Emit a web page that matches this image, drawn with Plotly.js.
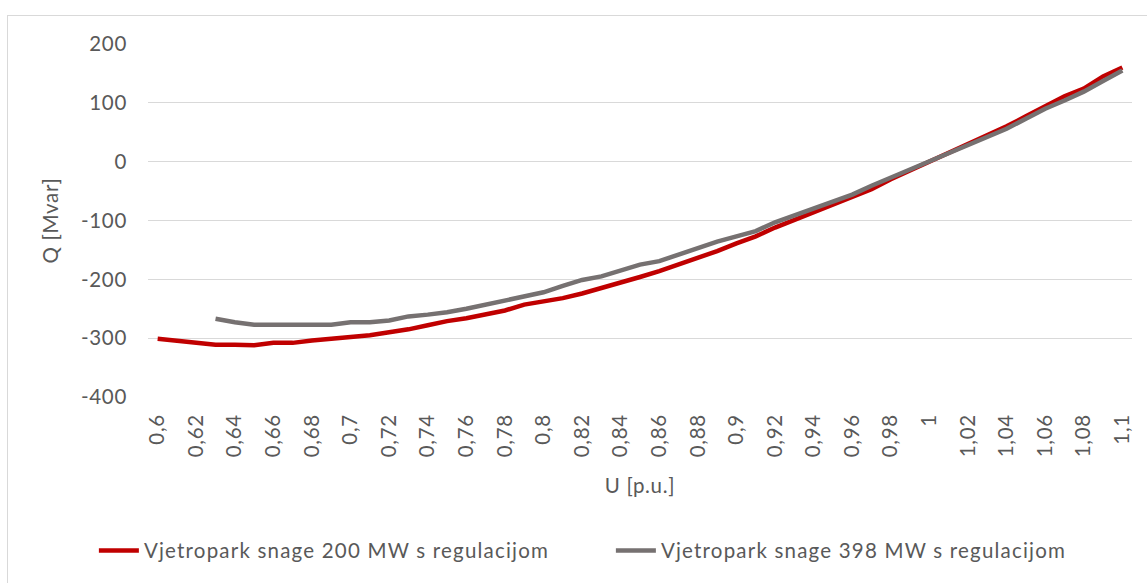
<!DOCTYPE html>
<html>
<head>
<meta charset="utf-8">
<script src="https://cdn.plot.ly/plotly-3.0.1.min.js"></script>
<style>
  html, body { margin: 0; padding: 0; background: #fff; }
  #chart { width: 1147px; height: 583px; position: absolute; left: 0; top: 0; }
  #frame { position: absolute; left: 7px; top: 15px; width: 1160px; height: 600px;
           border-left: 1.5px solid #d9d9d9; border-top: 1.5px solid #d9d9d9; pointer-events: none; }
  svg text { letter-spacing: 0.7px; }
  svg text.legendtext { letter-spacing: 1.2px; }
</style>
</head>
<body>
<div id="chart"></div>
<div id="frame"></div>
<script>
// Voltage U [p.u.] for each point
const U_RED = [0.60,0.61,0.62,0.63,0.64,0.65,0.66,0.67,0.68,0.69,
               0.70,0.71,0.72,0.73,0.74,0.75,0.76,0.77,0.78,0.79,
               0.80,0.81,0.82,0.83,0.84,0.85,0.86,0.87,0.88,0.89,
               0.90,0.91,0.92,0.93,0.94,0.95,0.96,0.97,0.98,0.99,
               1.00,1.01,1.02,1.03,1.04,1.05,1.06,1.07,1.08,1.09,1.10];
const U_GRAY = U_RED.slice(3);

// Reactive power Q [Mvar]
const Q_200 = [-301,-304,-307,-311,-311,-312,-308,-308,-304,-301,
               -298,-295,-290,-285,-278,-271,-266,-260,-253,-243,
               -238,-232,-224,-215,-205,-196,-186,-175,-164,-152,
               -139,-127,-112,-99,-87,-73,-60,-47,-30,-15,
               -1,15,30,46,60,77,95,111,124,145,160];
const Q_398 = [-267,-273,-277,-277,-278,-277,-277,-273,
               -273,-270,-263,-260,-256,-250,-243,-236,-230,
               -222,-211,-201,-195,-185,-175,-169,-158,-148,-136,
               -127,-118,-103,-91,-79,-68,-56,-41,-27,-14,
               -1,13,28,42,56,73,90,104,119,137,155];

const SERIES_NAMES = ["Vjetropark snage 200 MW s regulacijom",
                      "Vjetropark snage 398 MW s regulacijom"];

const X_TICK_VALS = [0.60,0.62,0.64,0.66,0.68,0.70,0.72,0.74,0.76,0.78,0.80,
                     0.82,0.84,0.86,0.88,0.90,0.92,0.94,0.96,0.98,1.00,
                     1.02,1.04,1.06,1.08,1.10];
const X_TICK_TEXT = ["0,6","0,62","0,64","0,66","0,68","0,7","0,72","0,74","0,76","0,78","0,8",
                     "0,82","0,84","0,86","0,88","0,9","0,92","0,94","0,96","0,98","1",
                     "1,02","1,04","1,06","1,08","1,1"];
const Y_TICK_VALS = [-400,-300,-200,-100,0,100,200];
const Y_TICK_TEXT = ["-400","-300","-200","-100","0","100","200"];

const FONT = "Lato, 'Open Sans', sans-serif";
const TXT = "#595959";
const FS = 20.5;

const traces = [
  { x: U_RED, y: Q_200, type: "scatter", mode: "lines", name: SERIES_NAMES[0],
    line: { color: "#C00000", width: 4.5 } },
  { x: U_GRAY, y: Q_398, type: "scatter", mode: "lines", name: SERIES_NAMES[1],
    line: { color: "#767171", width: 4.5 } }
];

const layout = {
  width: 1147, height: 583,
  margin: { l: 148, r: 15, t: 44, b: 186 },
  paper_bgcolor: "rgba(0,0,0,0)", plot_bgcolor: "#fff",
  font: { family: FONT, color: TXT, size: FS },
  showlegend: true,
  legend: { orientation: "h", x: -0.055, xanchor: "left", y: -0.435, yanchor: "middle",
            font: { family: FONT, size: FS, color: TXT }, itemwidth: 40, traceorder: "normal",
            entrywidth: 462, entrywidthmode: "pixels" },
  xaxis: {
    range: [0.595, 1.105], tickmode: "array", tickvals: X_TICK_VALS, ticktext: X_TICK_TEXT,
    tickangle: -90, showgrid: false, zeroline: false, showline: false, ticks: "",
    ticklabelstandoff: 12,
    tickfont: { family: FONT, size: FS, color: TXT },
    title: { text: "U [p.u.]", font: { family: FONT, size: FS, color: TXT }, standoff: 22 }
  },
  yaxis: {
    range: [-400, 200], tickmode: "array", tickvals: Y_TICK_VALS, ticktext: Y_TICK_TEXT,
    showgrid: true, gridcolor: "#d9d9d9", gridwidth: 1.3, zeroline: false, showline: false, ticks: "",
    ticklabelstandoff: 20,
    tickfont: { family: FONT, size: FS, color: TXT },
    title: { text: "Q [Mvar]", font: { family: FONT, size: FS, color: TXT }, standoff: 16 }
  }
};

Plotly.newPlot("chart", traces, layout, { displayModeBar: false, staticPlot: true });
</script>
</body>
</html>
